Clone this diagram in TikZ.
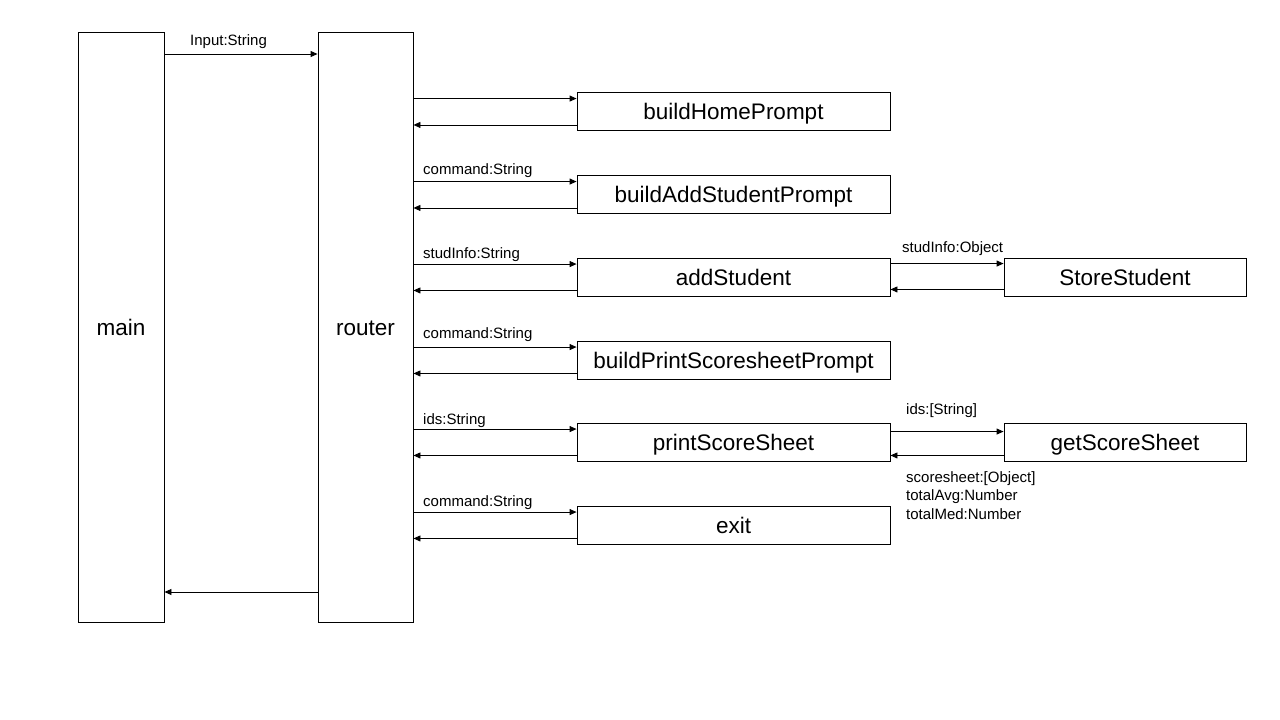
\documentclass[tikz,border=0pt]{standalone}
\usepackage{fontspec}
\setmainfont{Liberation Sans}
\usetikzlibrary{arrows.meta}
\begin{document}
\begin{tikzpicture}[x=1pt,y=-1pt,
  box/.style={draw,line width=0.9pt,rectangle,inner sep=0pt,text height=16pt,text depth=0pt,font=\fontsize{22.5}{26}\selectfont},
  fbox/.style={box,minimum width=313pt,minimum height=38pt},
  sbox/.style={box,minimum width=242pt,minimum height=38pt},
  arr/.style={line width=0.9pt,-{Triangle[length=7pt,width=6pt]}},
  lbl/.style={font=\fontsize{15}{18.5}\selectfont,inner sep=0pt,anchor=base west,align=left}]
\useasboundingbox (0,0) rectangle (1280,720);
\fill[white] (0,0) rectangle (1280,720);
\node[box,minimum width=86pt,minimum height=590pt] (main) at (121,327) {main};
\node[box,minimum width=95pt,minimum height=590pt] (router) at (365.5,327) {router};
\node[fbox] (f1) at (733.5,111.5) {buildHomePrompt};
\node[fbox] (f2) at (733.5,194.5) {buildAddStudentPrompt};
\node[fbox] (f3) at (733.5,277) {addStudent};
\node[fbox] (f4) at (733.5,360) {buildPrintScoresheetPrompt};
\node[fbox] (f5) at (733.5,442) {printScoreSheet};
\node[fbox] (f6) at (733.5,525) {exit};
\node[sbox] (s1) at (1125,277) {StoreStudent};
\node[sbox] (s2) at (1125,442) {getScoreSheet};
% main <-> router
\coordinate (min) at (0,54);
\coordinate (mout) at (0,592);
\draw[arr] (main.east |- min) -- (router.west |- min);
\draw[arr] (router.west |- mout) -- (main.east |- mout);
\node[lbl] at (190,45) {Input:String};
% router <-> functions
\foreach \f in {f1,f2,f3,f4,f5,f6}{
  \coordinate (\f t) at ([yshift=-6.5]\f.north west);
  \coordinate (\f b) at ([yshift=6]\f.south west);
  \draw[arr] (router.east |- \f t) -- (\f t);
  \draw[arr] (\f b) -- (router.east |- \f b);
}
\node[lbl] at (423,174) {command:String};
\node[lbl] at (423,258) {studInfo:String};
\node[lbl] at (423,338) {command:String};
\node[lbl] at (423,424) {ids:String};
\node[lbl] at (423,506) {command:String};
% addStudent <-> StoreStudent
\coordinate (a1) at ([yshift=-6]s1.north west);
\coordinate (a2) at ([yshift=7]s1.south west);
\draw[arr] (f3.east |- a1) -- (a1);
\draw[arr] (a2) -- (f3.east |- a2);
\node[lbl] at (902,252) {studInfo:Object};
% printScoreSheet <-> getScoreSheet
\coordinate (b1) at ([yshift=-9]s2.north west);
\coordinate (b2) at ([yshift=6]s2.south west);
\draw[arr] (f5.east |- b1) -- (b1);
\draw[arr] (b2) -- (f5.east |- b2);
\node[lbl] at (906,414) {ids:[String]};
\node[lbl,anchor=north west] at (906,471) {scoresheet:[Object]\\totalAvg:Number\\totalMed:Number};
\end{tikzpicture}
\end{document}
